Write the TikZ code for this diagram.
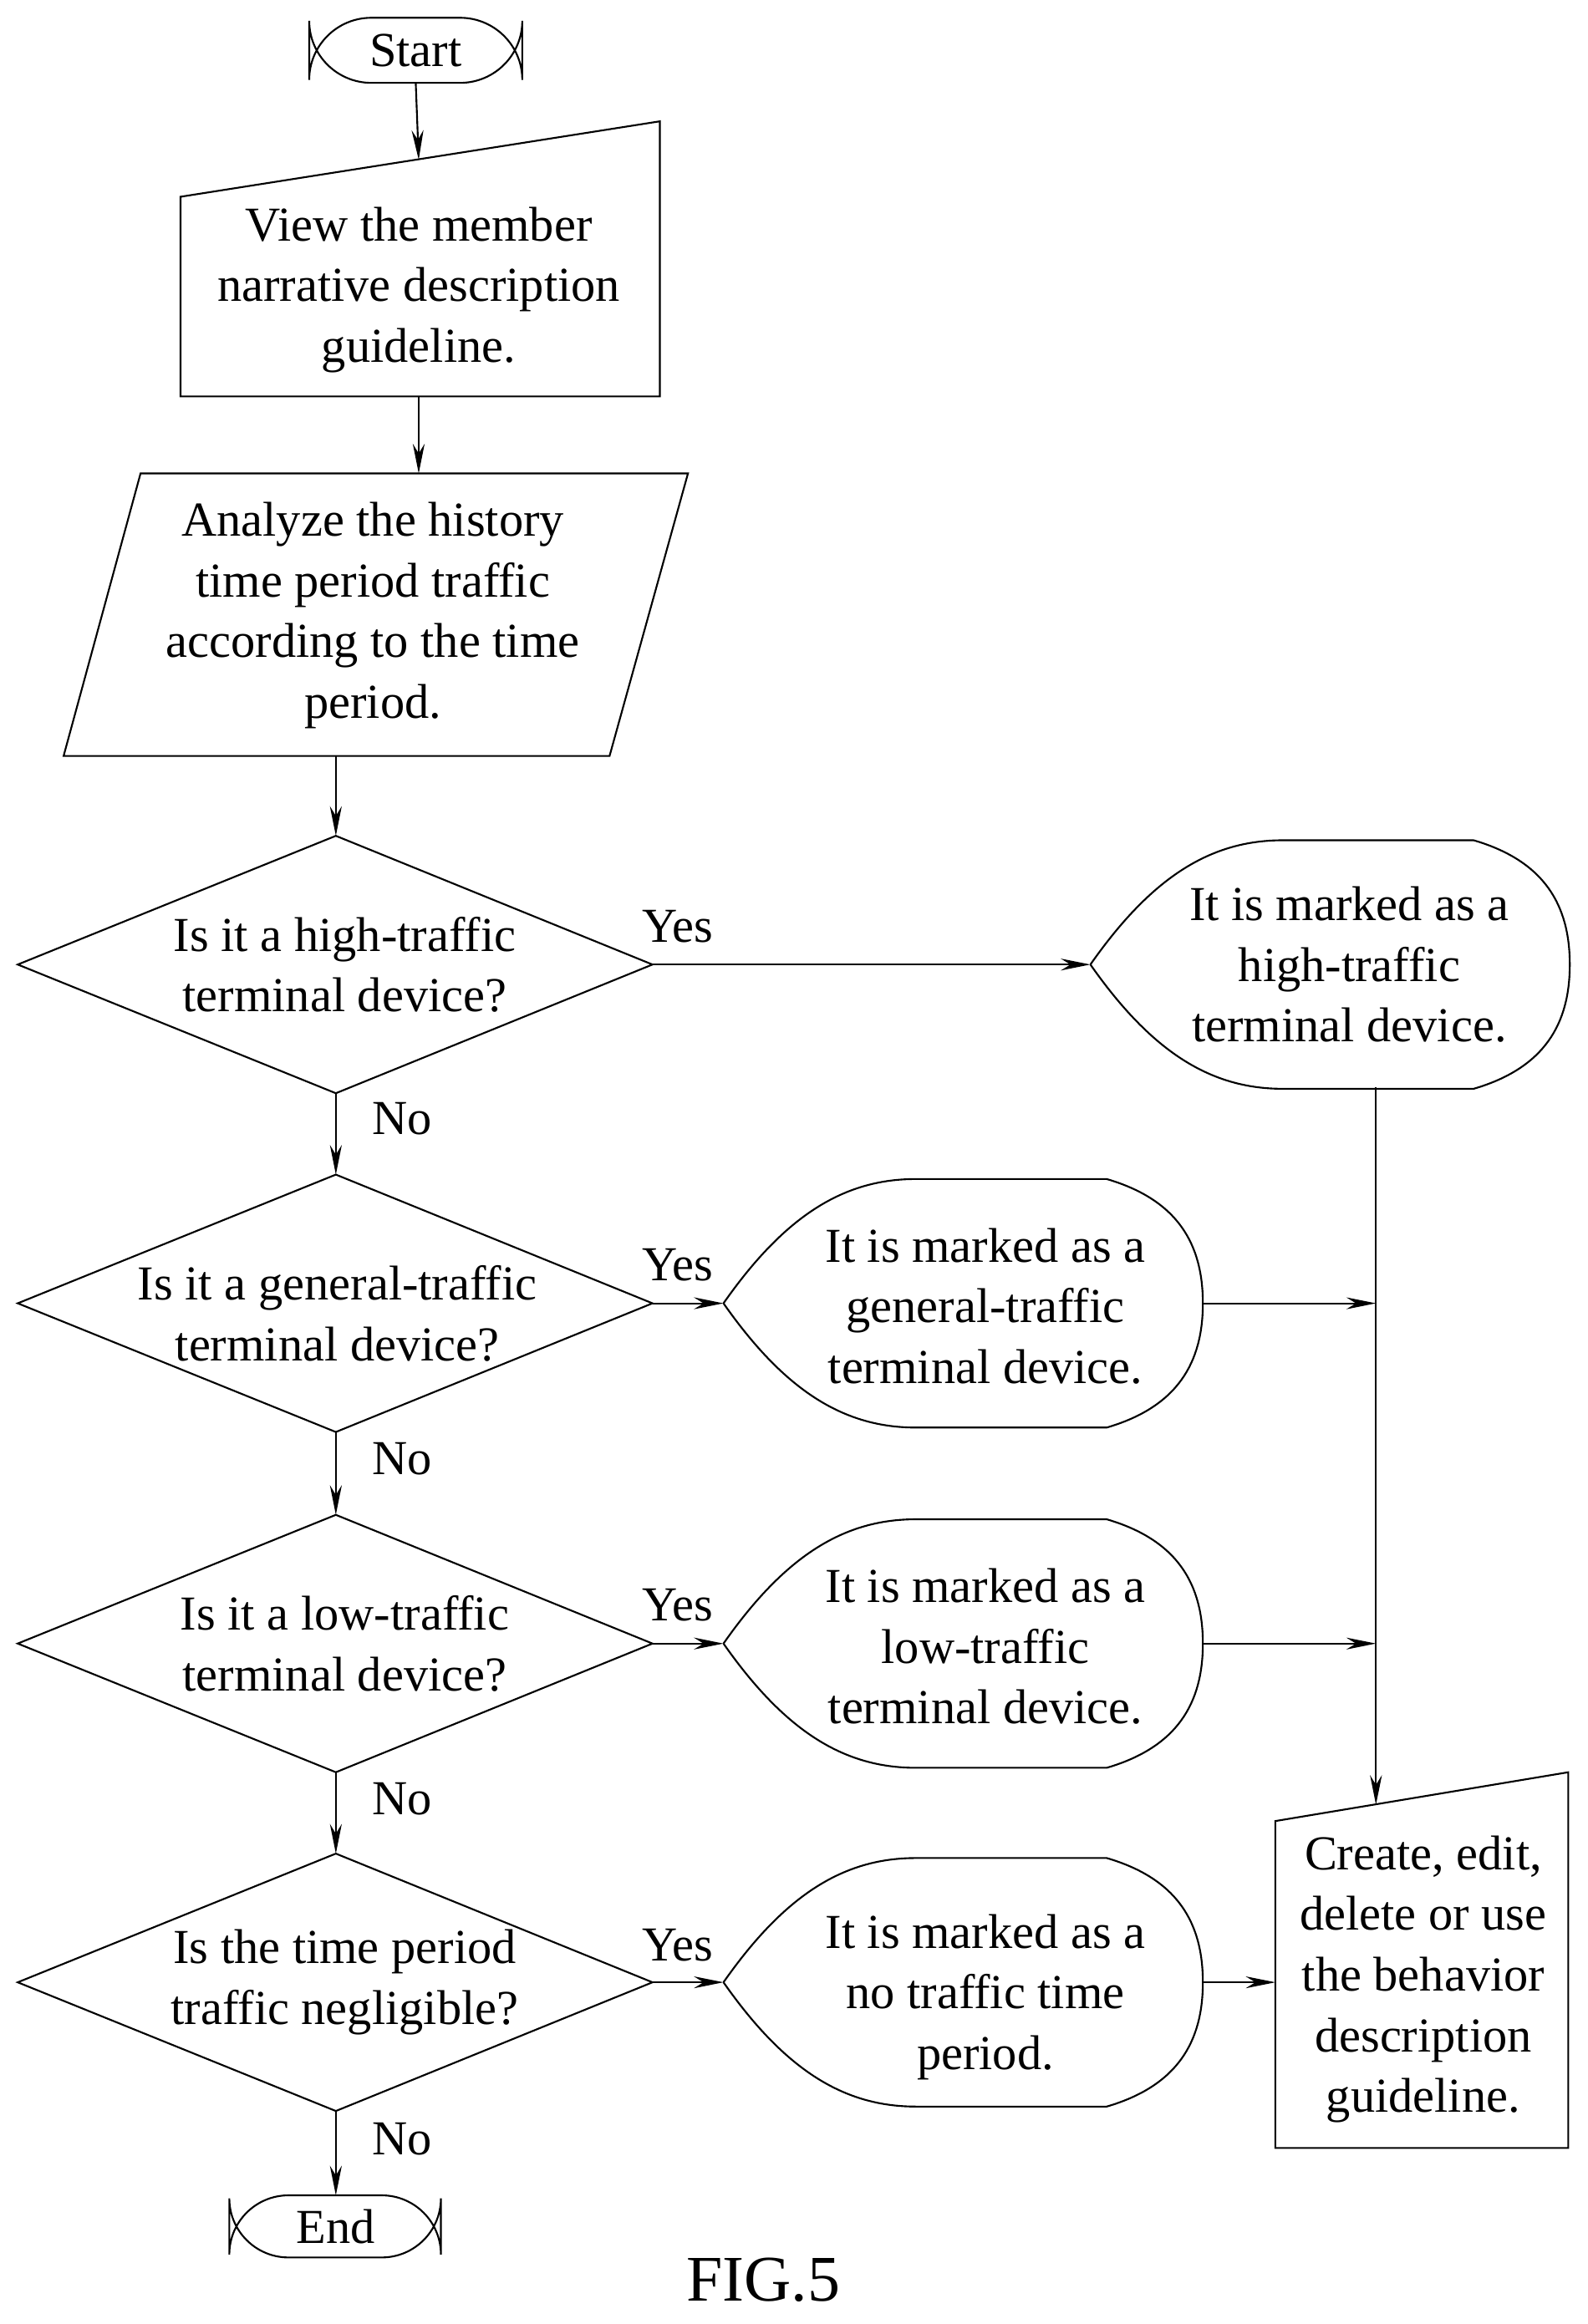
\documentclass[tikz,border=0pt]{standalone}
\usepackage{fontspec}
\setmainfont{Liberation Serif}
\usetikzlibrary{arrows.meta}
\begin{document}
\begin{tikzpicture}[x=0.5pt,y=-0.5pt,
  ln/.style={line width=0.6pt},
  arr/.style={ln,-{Stealth[length=10pt,width=4pt]}},
  txt/.style={align=center,font=\fontsize{16.5}{20.5}\selectfont,inner sep=0pt},
  lbl/.style={font=\fontsize{16.5}{20.5}\selectfont,inner sep=0pt}]
\useasboundingbox (0,0) rectangle (1073,1571);
\newcommand\dispshape[2]{\draw[ln] (#1-162,#2) .. controls (#1-120,#2-60) and (#1-80,#2-84) .. (#1-32,#2-84) -- (#1+97,#2-84) .. controls (#1+145,#2-70) and (#1+162,#2-40) .. (#1+162,#2) .. controls (#1+162,#2+40) and (#1+145,#2+70) .. (#1+97,#2+84) -- (#1-32,#2+84) .. controls (#1-80,#2+84) and (#1-120,#2+60) .. (#1-162,#2);}
\newcommand\diam[2]{\draw[ln] (#1-215,#2) -- (#1,#2-87) -- (#1+214,#2) -- (#1,#2+87) -- cycle;}
% start/end
\draw[ln,rounded corners=21pt] (209,12) rectangle (353,56);
\node[txt] (start) at (281,34) {Start};
\coordinate (startb) at (281,56);
\draw[ln,rounded corners=20pt] (155,1484) rectangle (298,1526);
\node[txt] (end) at (227,1505) {End};
\coordinate (endt) at (227,1484);
% box1
\draw[ln] (122,133) -- (446,82) -- (446,268) -- (122,268) -- cycle;
\node[txt] (b1) at (283,196) {View the member\\narrative description\\guideline.};
\coordinate (b1t) at (283,108); \coordinate (b1b) at (283,268);
% parallelogram
\draw[ln] (95,320) -- (465,320) -- (412,511) -- (43,511) -- cycle;
\node[txt] (p) at (252,416) {Analyze the history\\time period traffic\\according to the time\\period.};
\coordinate (pt) at (283,320); \coordinate (pb) at (227,511);
% diamonds
\diam{227}{652}\diam{227}{881}\diam{227}{1111}\diam{227}{1340}
\node[txt] (d1) at (233,652) {Is it a high-traffic\\terminal device?};
\node[txt] (d2) at (228,888) {Is it a general-traffic\\terminal device?};
\node[txt] (d3) at (233,1111) {Is it a low-traffic\\terminal device?};
\node[txt] (d4) at (233,1340) {Is the time period\\traffic negligible?};
\coordinate (d1t) at (227,565); \coordinate (d1b) at (227,739); \coordinate (d1r) at (441,652);
\coordinate (d2t) at (227,794); \coordinate (d2b) at (227,968); \coordinate (d2r) at (441,881);
\coordinate (d3t) at (227,1024); \coordinate (d3b) at (227,1198); \coordinate (d3r) at (441,1111);
\coordinate (d4t) at (227,1253); \coordinate (d4b) at (227,1427); \coordinate (d4r) at (441,1340);
% display shapes
\dispshape{899}{652}\dispshape{651}{881}\dispshape{651}{1111}\dispshape{651}{1340}
\node[txt] (o1) at (912,652) {It is marked as a\\high-traffic\\terminal device.};
\node[txt] (o2) at (666,883) {It is marked as a\\general-traffic\\terminal device.};
\node[txt] (o3) at (666,1113) {It is marked as a\\low-traffic\\terminal device.};
\node[txt] (o4) at (666,1350) {It is marked as a\\no traffic time\\period.};
\coordinate (o1l) at (737,652); \coordinate (o1b) at (930,735);
\coordinate (o2l) at (489,881); \coordinate (o2r) at (813,881);
\coordinate (o3l) at (489,1111); \coordinate (o3r) at (813,1111);
\coordinate (o4l) at (489,1340); \coordinate (o4r) at (813,1340);
\coordinate (j2) at (930,881); \coordinate (j3) at (930,1111);
% final box
\draw[ln] (862,1231) -- (1060,1198) -- (1060,1452) -- (862,1452) -- cycle;
\node[txt] (f) at (962,1338) {Create, edit,\\delete or use\\the behavior\\description\\guideline.};
\coordinate (ft) at (930,1220); \coordinate (fl) at (862,1340);
% arrows
\draw[arr] (startb) -- (b1t);
\draw[arr] (b1b) -- (pt);
\draw[arr] (pb) -- (d1t);
\draw[arr] (d1b) -- (d2t);
\draw[arr] (d2b) -- (d3t);
\draw[arr] (d3b) -- (d4t);
\draw[arr] (d4b) -- (endt);
\draw[arr] (d1r) -- (o1l);
\draw[arr] (d2r) -- (o2l);
\draw[arr] (d3r) -- (o3l);
\draw[arr] (d4r) -- (o4l);
\draw[arr] (o1b) -- (ft);
\draw[arr] (o2r) -- (j2);
\draw[arr] (o3r) -- (j3);
\draw[arr] (o4r) -- (fl);
% labels
\node[lbl] (y1) at (458,626) {Yes};
\node[lbl] (y2) at (458,855) {Yes};
\node[lbl] (y3) at (458,1085) {Yes};
\node[lbl] (y4) at (458,1315) {Yes};
\node[lbl] (n1) at (272,756) {No};
\node[lbl] (n2) at (272,986) {No};
\node[lbl] (n3) at (272,1216) {No};
\node[lbl] (n4) at (272,1446) {No};
\node[font=\fontsize{22}{26}\selectfont,inner sep=0pt] (fig) at (516,1541) {FIG.5};
\end{tikzpicture}
\end{document}
